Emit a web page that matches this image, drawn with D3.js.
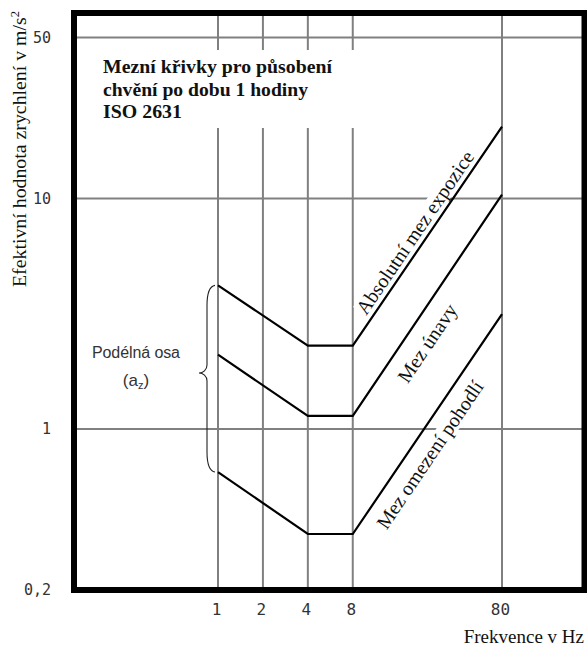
<!DOCTYPE html>
<html>
<head>
<meta charset="utf-8">
<script src="https://d3js.org/d3.v7.min.js"></script>
<style>
  body { margin: 0; background: #fff; }
</style>
</head>
<body>
<div id="viz"></div>
<script>
// frequency grid lines / tick labels (Hz)
var freqTicks = [1, 2, 4, 8, 80];
// acceleration grid lines / tick labels (m/s2)
var accelTicks = [50, 10, 1, 0.2];
var accelLabels = ["50", "10", "1", "0,2"];

// break points of the three ISO 2631 curves
var curveFreq = [1, 4, 8, 80];
var exposureLimit = [4.2, 2.3, 2.3, 20.5];
var fatigueLimit = [2.1, 1.14, 1.14, 10.4];
var comfortLimit = [0.65, 0.35, 0.35, 3.15];

var curveNames = ["Absolutní mez expozice", "Mez únavy", "Mez omezení pohodlí"];
var titleLines = ["Mezní křivky pro působení", "chvění po dobu 1 hodiny", "ISO 2631"];

var width = 587, height = 646;
var frame = { left: 74, top: 13, right: 584.5, bottom: 590 };

var svg = d3.select("#viz").append("svg")
    .attr("width", width)
    .attr("height", height)
    .style("display", "block");

var x = d3.scaleLog().domain([1, 80]).range([218, 502]);
var y = d3.scaleLog().domain([0.2, 50]).range([590, 37.5]);

// grid
var grid = svg.append("g").attr("stroke", "#808080").attr("stroke-width", 2);
grid.selectAll("line.v").data(freqTicks).enter().append("line")
    .attr("x1", d => x(d)).attr("x2", d => x(d))
    .attr("y1", frame.top).attr("y2", frame.bottom);
grid.selectAll("line.h").data(accelTicks).enter().append("line")
    .attr("x1", frame.left).attr("x2", frame.right)
    .attr("y1", d => y(d)).attr("y2", d => y(d));

// title, on a white box that breaks the grid lines
svg.append("rect")
    .attr("x", 79).attr("y", 50).attr("width", 282).attr("height", 78)
    .attr("fill", "#fff");
var titleLen = [229, 205, 79];
svg.append("g").selectAll("text").data(titleLines).enter().append("text")
    .attr("x", 103)
    .attr("y", (d, i) => 73 + i * 22.5)
    .attr("textLength", (d, i) => titleLen[i])
    .attr("lengthAdjust", "spacingAndGlyphs")
    .style("font-family", "'Liberation Serif', serif")
    .style("font-weight", "bold")
    .style("font-size", "19px")
    .style("fill", "#111")
    .text(d => d);

// curve labels along the rising part (8 -> 80 Hz)
function curveLabel(name, values, along, offset, len) {
    var x0 = x(curveFreq[2]), y0 = y(values[2]);
    var x1 = x(curveFreq[3]), y1 = y(values[3]);
    var dx = x1 - x0, dy = y1 - y0, L = Math.hypot(dx, dy);
    var ux = dx / L, uy = dy / L;
    var nx = uy, ny = -ux;
    var px = x0 + ux * along + nx * offset;
    var py = y0 + uy * along + ny * offset;
    var ang = Math.atan2(dy, dx) * 180 / Math.PI;
    var g = svg.append("g")
        .attr("transform", "translate(" + px + "," + py + ") rotate(" + ang + ")");
    var t = g.append("text")
        .attr("textLength", len)
        .attr("lengthAdjust", "spacingAndGlyphs")
        .style("font-family", "'Liberation Serif', serif")
        .style("font-size", "20px")
        .style("fill", "#111")
        .text(name);
    var b = t.node().getBBox();
    g.insert("rect", "text")
        .attr("x", b.x).attr("y", b.y + 2)
        .attr("width", b.width).attr("height", b.height - 4)
        .attr("fill", "#fff");
}
curveLabel(curveNames[0], exposureLimit, 32, 5.5, 193);
curveLabel(curveNames[1], fatigueLimit, 57, -28, 90);
curveLabel(curveNames[2], comfortLimit, 22, -26, 174);

// curves
var line = d3.line().x(d => x(d[0])).y(d => y(d[1]));
[exposureLimit, fatigueLimit, comfortLimit].forEach(function (vals) {
    svg.append("path")
        .datum(curveFreq.map((f, i) => [f, vals[i]]))
        .attr("d", line)
        .attr("fill", "none")
        .attr("stroke", "#000")
        .attr("stroke-width", 2.2)
        .attr("stroke-linejoin", "miter");
});

// brace for the longitudinal axis
var bx = x(1) - 3, sx = x(1) - 11, tx = x(1) - 19;
var by0 = y(exposureLimit[0]), by1 = y(comfortLimit[0]), bym = 373;
var brace = d3.path();
brace.moveTo(bx, by0);
brace.bezierCurveTo(sx + 2, by0 + 1, sx, by0 + 8, sx, by0 + 20);
brace.lineTo(sx, bym - 8);
brace.bezierCurveTo(sx, bym - 3, tx + 4, bym, tx, bym);
brace.bezierCurveTo(tx + 4, bym, sx, bym + 3, sx, bym + 8);
brace.lineTo(sx, by1 - 20);
brace.bezierCurveTo(sx, by1 - 8, sx + 2, by1 - 1, bx, by1);
svg.append("path")
    .attr("d", brace.toString())
    .attr("fill", "none")
    .attr("stroke", "#222")
    .attr("stroke-width", 1.1);

var axisName = svg.append("g")
    .style("font-family", "'Liberation Sans', sans-serif")
    .style("font-size", "16px")
    .style("fill", "#333")
    .attr("text-anchor", "middle");
axisName.append("text").attr("x", 136).attr("y", 358)
    .attr("textLength", 88).attr("lengthAdjust", "spacing")
    .text("Podélná osa");
var az = axisName.append("text").attr("x", 136).attr("y", 386)
    .style("font-size", "17px");
az.append("tspan").text("(a");
az.append("tspan").attr("dy", 3).style("font-size", "11px").text("z");
az.append("tspan").attr("dy", -3).text(")");

// frame
svg.append("rect")
    .attr("x", frame.left).attr("y", frame.top)
    .attr("width", frame.right - frame.left)
    .attr("height", frame.bottom - frame.top)
    .attr("fill", "none")
    .attr("stroke", "#000")
    .attr("stroke-width", 6);

// tick labels
svg.append("g").selectAll("text").data(freqTicks).enter().append("text")
    .attr("x", d => x(d) - 1.5)
    .attr("y", 615)
    .attr("text-anchor", "middle")
    .style("font-family", "'DejaVu Sans Mono', monospace")
    .style("font-size", "16px")
    .style("fill", "#333")
    .text(d => d);

svg.append("g").selectAll("text").data(accelTicks).enter().append("text")
    .attr("x", 51)
    .attr("y", d => y(d) + 5)
    .attr("text-anchor", "end")
    .style("font-family", "'DejaVu Sans Mono', monospace")
    .style("font-size", "15px")
    .style("fill", "#333")
    .text((d, i) => accelLabels[i]);

// axis titles
var yTitle = svg.append("text")
    .attr("transform", "translate(26,287) rotate(-90)")
    .attr("textLength", 276)
    .attr("lengthAdjust", "spacingAndGlyphs")
    .style("font-family", "'Liberation Serif', serif")
    .style("font-size", "19px")
    .style("fill", "#111");
yTitle.append("tspan").text("Efektivní hodnota zrychlení v m/s");
yTitle.append("tspan").attr("dy", -7).style("font-size", "12px").text("2");

svg.append("text")
    .attr("x", 584)
    .attr("y", 643)
    .attr("text-anchor", "end")
    .style("font-family", "'Liberation Serif', serif")
    .style("font-size", "19px")
    .style("fill", "#111")
    .text("Frekvence v Hz");
</script>
</body>
</html>
